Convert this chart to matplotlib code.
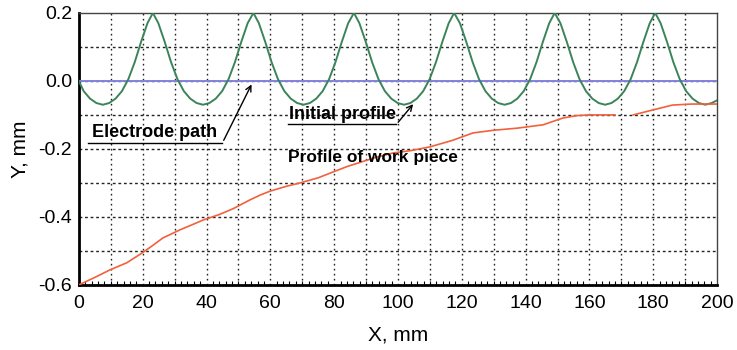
#!/usr/bin/env python3
"""Electrode path, initial profile and work piece profile along X."""

import numpy as np
import matplotlib.pyplot as plt

plt.rcParams["font.family"] = ["Liberation Sans", "DejaVu Sans"]

# initial profile (green)
initial_x = [0, 1.5, 3.5, 5.5, 7.5,
             9.5, 11.5, 13.5, 15.5, 17.5, 19.5, 21.5, 23.2, 24.9, 26.9, 28.9, 30.9, 32.9, 34.9, 36.9, 38.9,
             40.9, 42.9, 44.9, 46.9, 48.9, 50.9, 52.9, 54.7, 56.4, 58.4, 60.4, 62.4, 64.4, 66.4, 68.4, 70.4,
             72.4, 74.4, 76.4, 78.4, 80.4, 82.4, 84.4, 86.2, 87.9, 89.9, 91.9, 93.9, 95.9, 97.9, 99.9, 101.9,
             103.9, 105.9, 107.9, 109.9, 111.9, 113.9, 115.9, 117.6, 119.4, 121.4, 123.4, 125.4, 127.4, 129.4, 131.4, 133.4,
             135.4, 137.4, 139.4, 141.4, 143.4, 145.4, 147.4, 149.1, 150.9, 152.9, 154.9, 156.9, 158.9, 160.9, 162.9, 164.9,
             166.9, 168.9, 170.9, 172.9, 174.9, 176.9, 178.9, 180.6, 182.3, 184.3, 186.3, 188.3, 190.3, 192.3, 194.3, 196.3,
             198.3, 200]
initial_y = [0.0, -0.03, -0.052, -0.065, -0.07,
             -0.065, -0.052, -0.03, 0.005, 0.055, 0.115, 0.17, 0.2, 0.17, 0.115, 0.055, 0.005, -0.03, -0.052, -0.065, -0.07,
             -0.065, -0.052, -0.03, 0.005, 0.055, 0.115, 0.17, 0.2, 0.17, 0.115, 0.055, 0.005, -0.03, -0.052, -0.065, -0.07,
             -0.065, -0.052, -0.03, 0.005, 0.055, 0.115, 0.17, 0.2, 0.17, 0.115, 0.055, 0.005, -0.03, -0.052, -0.065, -0.07,
             -0.065, -0.052, -0.03, 0.005, 0.055, 0.115, 0.17, 0.2, 0.17, 0.115, 0.055, 0.005, -0.03, -0.052, -0.065, -0.07,
             -0.065, -0.052, -0.03, 0.005, 0.055, 0.115, 0.17, 0.2, 0.17, 0.115, 0.055, 0.005, -0.03, -0.052, -0.065, -0.07,
             -0.065, -0.052, -0.03, 0.005, 0.055, 0.115, 0.17, 0.2, 0.17, 0.115, 0.055, 0.005, -0.03, -0.052, -0.065, -0.07,
             -0.065, -0.057]

# electrode path (blue)
electrode_x = [0, 200]
electrode_y = [0.0, 0.0]

# profile of work piece (red), gap near 170
work_x = [0, 5, 9.7, 15, 20, 23, 26.3, 31.7, 35, 39, 44, 48.3, 53.6, 57, 60, 65, 69.3, 75, 79.6,
          84, 88, 93, 98.4, 104, 110, 117, 123.5, 130, 137.3, 145.5, 151.7, 156, 160, 168,
          170, 173.7, 180, 186, 192, 200]
work_y = [-0.6, -0.578, -0.556, -0.535, -0.505, -0.485, -0.462, -0.438, -0.425, -0.409, -0.393,
          -0.376, -0.35, -0.335, -0.324, -0.31, -0.3, -0.285, -0.268, -0.252, -0.24, -0.225,
          -0.212, -0.205, -0.194, -0.175, -0.153, -0.145, -0.139, -0.129, -0.109, -0.102, -0.1,
          -0.1, np.nan, -0.1, -0.085, -0.071, -0.068, -0.068]

x_ticks = [0, 20, 40, 60, 80, 100, 120, 140, 160, 180, 200]
y_ticks = [-0.6, -0.4, -0.2, 0.0, 0.2]
y_labels = ["-0.6", "-0.4", "-0.2", "0.0", "0.2"]


def main():
    fig = plt.figure(figsize=(7.37, 3.5), dpi=100)
    ax = fig.add_axes([0.107, 0.186, 0.866, 0.777])

    ax.plot(electrode_x, electrode_y, color="#8282e0", lw=1.4, zorder=3)
    ax.plot(initial_x, initial_y, color="#3b845a", lw=1.4, zorder=4)
    ax.plot(work_x, work_y, color="#f2603c", lw=1.2, zorder=4)

    ax.set_xlim(0, 200)
    ax.set_ylim(-0.6, 0.2)

    # grid every 10 in x and 0.1 in y
    for gx in np.arange(10, 200, 10):
        ax.axvline(gx, color="#222222", lw=1.0, ls=(0, (1.2, 2.4)), zorder=1)
    for gy in np.arange(-0.5, 0.2, 0.1):
        ax.axhline(gy, color="#222222", lw=1.0, ls=(0, (2, 2)), zorder=1)

    ax.set_xticks(x_ticks)
    ax.set_yticks(y_ticks)
    ax.set_yticklabels(y_labels)
    ax.set_xticks(np.arange(0, 201, 2), minor=True)
    ax.tick_params(axis="x", which="major", length=0, labelsize=14, pad=7)
    ax.tick_params(axis="y", which="major", length=0, labelsize=14, pad=5)
    ax.tick_params(axis="x", which="minor", direction="in", length=3, width=0.8)
    ax.tick_params(axis="y", which="minor", length=0)

    for side in ("left", "bottom"):
        ax.spines[side].set_linewidth(2.0)
    for side in ("top", "right"):
        ax.spines[side].set_linewidth(1.0)
        ax.spines[side].set_color("#444444")

    ax.set_xlabel("X, mm", fontsize=15, labelpad=10)
    ax.set_ylabel("Y, mm", fontsize=15, labelpad=6)

    # annotations with underlined text
    ax.text(4, -0.176, "Electrode path", fontsize=13, fontweight="bold",
            ha="left", va="bottom", zorder=6)
    ax.plot([3, 45], [-0.182, -0.182], color="black", lw=1.0, zorder=6)
    ax.annotate("", xy=(54.5, -0.003), xytext=(45, -0.182),
                arrowprops=dict(arrowstyle="->", color="black", lw=1.0), zorder=6)

    ax.text(66, -0.123, "Initial profile", fontsize=13, fontweight="bold",
            ha="left", va="bottom", zorder=6)
    ax.plot([65.5, 99.5], [-0.128, -0.128], color="black", lw=1.0, zorder=6)
    ax.annotate("", xy=(105.3, -0.062), xytext=(99.5, -0.128),
                arrowprops=dict(arrowstyle="->", color="black", lw=1.0), zorder=6)

    ax.text(92, -0.226, "Profile of work piece", fontsize=12.5, fontweight="bold",
            ha="center", va="center", zorder=6)

    fig.savefig("out.png", dpi=100)
    plt.close(fig)


if __name__ == "__main__":
    main()
